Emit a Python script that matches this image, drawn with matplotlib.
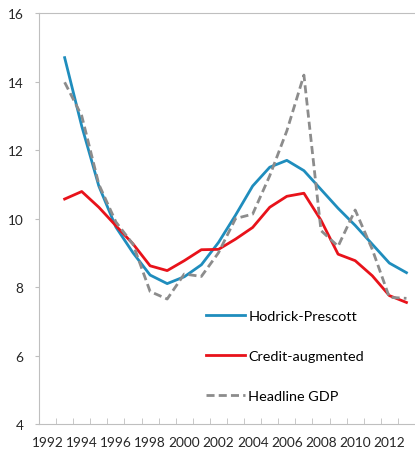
import matplotlib.pyplot as plt
import numpy as np

plt.rcParams['font.family'] = ['Lato', 'DejaVu Sans']

# Datos (1993-2013)
years = list(range(1993, 2014))
hodrick_prescott = [14.7, 12.7, 10.95, 9.75, 9.0, 8.35, 8.1, 8.3, 8.65, 9.3, 10.1, 10.95, 11.5, 11.7, 11.4, 10.85, 10.3, 9.8, 9.25, 8.7, 8.42]
credit_augmented = [10.57, 10.79, 10.33, 9.79, 9.26, 8.62, 8.48, 8.77, 9.09, 9.1, 9.4, 9.74, 10.33, 10.65, 10.74, 9.95, 8.96, 8.77, 8.33, 7.75, 7.55]
headline_gdp = [13.98, 13.0, 11.0, 9.9, 9.25, 7.87, 7.65, 8.38, 8.31, 9.0, 10.0, 10.13, 11.25, 12.56, 14.19, 9.65, 9.19, 10.25, 9.1, 7.7, 7.67]

all_years = list(range(1992, 2014))
tick_labels = [str(y) if y % 2 == 0 else '' for y in all_years]

fig = plt.figure(figsize=(4.15, 4.56), dpi=100)
ax = fig.add_axes([0.094, 0.068, 0.906, 0.901])

x = [all_years.index(y) for y in years]
ax.plot(x, hodrick_prescott, color='#1f8dbd', linewidth=2.0, label='Hodrick-Prescott')
ax.plot(x, credit_augmented, color='#e8121a', linewidth=2.0, label='Credit-augmented')
ax.plot(x, headline_gdp, color='#8c8c8c', linewidth=2.0, linestyle=(0, (2.9, 1.5)), label='Headline GDP')

ax.set_xlim(-0.5, len(all_years) - 0.5)
ax.set_ylim(4, 16)
ax.set_yticks(np.arange(4, 17, 2))
ax.set_xticks(range(len(all_years)))
ax.set_xticklabels(tick_labels)
ax.set_xticks(np.arange(0.5, len(all_years) - 0.5, 1), minor=True)

ax.tick_params(axis='x', which='major', length=0, pad=9, labelsize=9.8, labelcolor='#262626')
ax.tick_params(axis='x', which='minor', direction='in', length=4, color='#bfbfbf')
ax.tick_params(axis='y', length=3, color='#bfbfbf', labelsize=9.8, labelcolor='#262626', pad=8)

for s in ['left', 'bottom', 'top']:
    ax.spines[s].set_color('#bfbfbf')
ax.spines['right'].set_visible(False)

ax.legend(loc='upper left', bbox_to_anchor=(0.443, 0.278), frameon=False, fontsize=10.4,
          handlelength=2.75, handletextpad=0.2, labelspacing=1.95, borderpad=0, borderaxespad=0)

plt.savefig('out.png', dpi=100)
